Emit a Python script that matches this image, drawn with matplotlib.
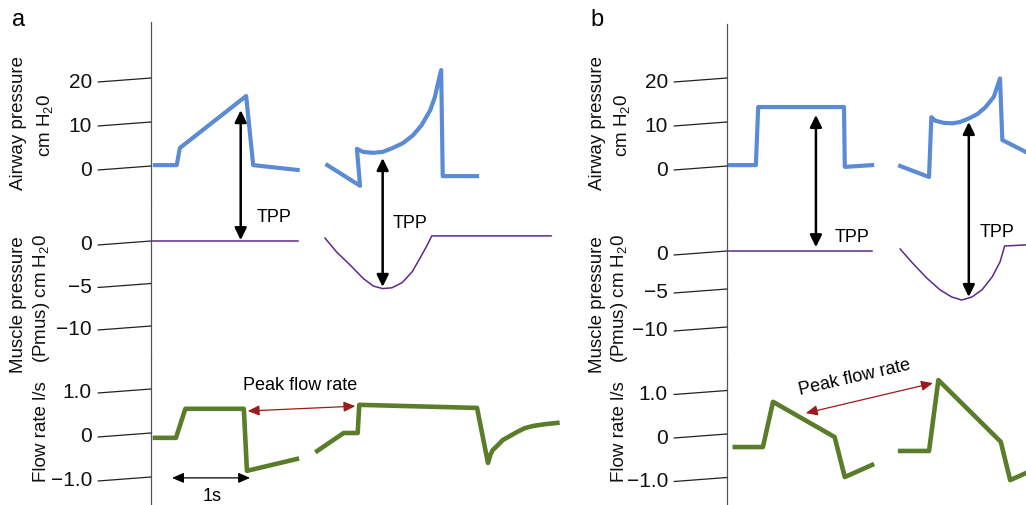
import matplotlib
matplotlib.use('Agg')
import matplotlib.pyplot as plt
from matplotlib.patches import ConnectionPatch

plt.rcParams['font.family'] = ['Liberation Sans', 'DejaVu Sans']
plt.rcParams['mathtext.default'] = 'regular'

# ---- data (time in s, pressure in cm H2O, flow in l/s) ----
# panel a: airway pressure
a_aw1_t = [0.05, 0.33, 0.37, 1.22, 1.31, 1.88]
a_aw1_v = [0.2, 0.2, 4.1, 15.9, 0.2, -0.9]
a_aw2_t = [2.26, 2.68, 2.64, 2.72, 2.85, 2.97, 3.10, 3.23, 3.36, 3.47, 3.58, 3.64, 3.68, 3.72, 3.74, 4.18]
a_aw2_v = [0.2, -4.5, 3.9, 3.2, 3.0, 3.2, 4.1, 5.2, 7.0, 9.3, 12.7, 15.7, 18.9, 21.8, -2.3, -2.3]
# panel a: muscle pressure
a_mu1_t = [0.01, 1.88]
a_mu1_v = [0.0, 0.0]
a_mu2_t = [2.23, 2.38, 2.55, 2.72, 2.85, 2.97, 3.09, 3.22, 3.35, 3.45, 3.54, 3.60, 5.13]
a_mu2_v = [0.35, -1.3, -2.8, -4.4, -5.3, -5.6, -5.5, -4.9, -3.6, -2.0, -0.5, 0.6, 0.6]
# panel a: flow
a_fl1_t = [0.05, 0.32, 0.44, 1.19, 1.23, 1.87]
a_fl1_v = [-0.11, -0.11, 0.55, 0.55, -0.86, -0.59]
a_fl2_t = [2.13, 2.47, 2.65, 2.67, 4.18, 4.32, 4.35, 4.38, 4.45, 4.51, 4.60, 4.69, 4.79, 4.90, 5.05, 5.21]
a_fl2_v = [-0.41, 0.0, 0.0, 0.64, 0.57, -0.68, -0.50, -0.39, -0.27, -0.16, -0.07, 0.02, 0.11, 0.16, 0.20, 0.23]

# panel b: airway pressure
b_aw1_t = [0.04, 0.37, 0.40, 1.50, 1.51, 1.86]
b_aw1_v = [0.2, 0.2, 13.4, 13.4, -0.2, 0.2]
b_aw2_t = [2.22, 2.59, 2.62, 2.67, 2.78, 2.89, 2.99, 3.10, 3.21, 3.31, 3.42, 3.50, 3.53, 3.83]
b_aw2_v = [0.0, -2.5, 11.1, 10.3, 9.8, 9.7, 10.0, 10.8, 11.8, 13.3, 15.7, 19.9, 5.9, 3.2]
# panel b: muscle pressure
b_mu1_t = [0.01, 1.86]
b_mu1_v = [0.0, 0.0]
b_mu2_t = [2.22, 2.38, 2.56, 2.73, 2.88, 3.01, 3.14, 3.27, 3.40, 3.50, 3.56, 3.83]
b_mu2_v = [0.26, -1.6, -3.55, -5.1, -6.05, -6.45, -6.05, -5.1, -3.4, -1.45, 0.66, 0.8]
# panel b: flow
b_fl1_t = [0.10, 0.46, 0.59, 1.38, 1.51, 1.86]
b_fl1_v = [-0.30, -0.30, 0.74, -0.07, -0.99, -0.71]
b_fl2_t = [2.22, 2.59, 2.71, 3.51, 3.63, 3.83]
b_fl2_v = [-0.39, -0.39, 1.24, -0.18, -1.06, -0.90]

aw_ticks = [20, 10, 0]
aw_labels = ['20', '10', '0']
mu_ticks = [0, -5, -10]
mu_labels = ['0', '\u22125', '\u221210']
fl_ticks = [1.0, 0, -1.0]
fl_labels = ['1.0', '0', '\u22121.0']

# TPP arrows: (time, airway value, muscle value)
a_tpp = [(1.15, 12.7, 0.1), (2.97, 1.8, -5.4)]
b_tpp = [(1.14, 11.6, 0.5), (3.10, 10.0, -6.05)]

BLUE = '#5b8bd5'
PURPLE = '#5c2a8c'
GREEN = '#5a7d2a'
RED = '#9b1b1b'

W, H = 1026, 505
PX_PER_S = 78.0

fig = plt.figure(figsize=(W / 100, H / 100), dpi=100)


def make_ax(x_left, x_right, top, bottom, zero_px, ppu):
    # axes placed in pixel units, y scaled so that value 0 sits at zero_px
    ax = fig.add_axes([x_left / W, 1 - bottom / H, (x_right - x_left) / W, (bottom - top) / H])
    ax.set_xlim(0, (x_right - x_left) / PX_PER_S)
    ax.set_ylim((zero_px - bottom) / ppu, (zero_px - top) / ppu)
    ax.set_facecolor('none')
    for s in ['top', 'right', 'bottom']:
        ax.spines[s].set_visible(False)
    ax.spines['left'].set_color('#555555')
    ax.spines['left'].set_linewidth(0.9)
    ax.set_xticks([])
    ax.set_yticks([])
    return ax


def slanted_ticks(ax, values, labels):
    tr = ax.get_yaxis_transform()
    for v, lab in zip(values, labels):
        ax.annotate('', xy=(0, v), xycoords=tr, xytext=(-53, -4), textcoords='offset pixels',
                    arrowprops=dict(arrowstyle='-', color='#222222', lw=0.9, shrinkA=0, shrinkB=0),
                    annotation_clip=False)
        ax.annotate(lab, xy=(0, v), xycoords=tr, xytext=(-59, -4), textcoords='offset pixels',
                    ha='right', va='center', fontsize=15, color='#111111', annotation_clip=False)


def tpp_arrows(ax_aw, ax_mu, arrows):
    for t, paw, pmu in arrows:
        con = ConnectionPatch(xyA=(t, paw), coordsA=ax_aw.transData,
                              xyB=(t, pmu), coordsB=ax_mu.transData,
                              arrowstyle='<|-|>,head_length=0.45,head_width=0.22',
                              mutation_scale=16, lw=1.8, color='black')
        fig.add_artist(con)


def ylabels(x1, x2):
    kw = dict(rotation=90, ha='center', va='center', fontsize=13.5, color='#111111')
    fig.text(x1 / W, 1 - 123 / H, 'Airway pressure', **kw)
    fig.text(x2 / W, 1 - 125 / H, 'cm H$_2$0', **kw)
    fig.text(x1 / W, 1 - 305 / H, 'Muscle pressure', **kw)
    fig.text((x2 - 3) / W, 1 - 298 / H, '(Pmus) cm H$_2$0', **kw)
    fig.text((x2 - 3) / W, 1 - 432 / H, 'Flow rate l/s', **kw)


# ---- panel a ----
a_aw = make_ax(151, 566, 22, 205, 166, 4.4)
a_mu = make_ax(151, 566, 205, 358, 241, 8.5)
a_fl = make_ax(151, 566, 358, 505, 433, 44.0)

a_aw.plot(a_aw1_t, a_aw1_v, color=BLUE, lw=3)
a_aw.plot(a_aw2_t, a_aw2_v, color=BLUE, lw=3)
a_mu.plot(a_mu1_t, a_mu1_v, color=PURPLE, lw=1.1)
a_mu.plot(a_mu2_t, a_mu2_v, color=PURPLE, lw=1.1)
a_fl.plot(a_fl1_t, a_fl1_v, color=GREEN, lw=3.3)
a_fl.plot(a_fl2_t, a_fl2_v, color=GREEN, lw=3.3)

slanted_ticks(a_aw, aw_ticks, aw_labels)
slanted_ticks(a_mu, mu_ticks, mu_labels)
slanted_ticks(a_fl, fl_ticks, fl_labels)
tpp_arrows(a_aw, a_mu, a_tpp)
a_mu.text(1.36, 2.8, 'TPP', fontsize=13, va='center', ha='left')
a_mu.text(3.10, 2.1, 'TPP', fontsize=13, va='center', ha='left')

a_fl.annotate('', xy=(1.24, 0.50), xytext=(2.62, 0.61),
              arrowprops=dict(arrowstyle='<|-|>,head_length=0.5,head_width=0.22', mutation_scale=14,
                              color=RED, lw=0.9, shrinkA=0, shrinkB=0), annotation_clip=False)
a_fl.text(1.91, 1.07, 'Peak flow rate', fontsize=13, ha='center', va='center')
a_fl.annotate('', xy=(0.27, -1.02), xytext=(1.27, -1.02),
              arrowprops=dict(arrowstyle='<|-|>,head_length=0.5,head_width=0.22', mutation_scale=14,
                              color='black', lw=0.9, shrinkA=0, shrinkB=0), annotation_clip=False)
a_fl.text(0.78, -1.45, '1s', fontsize=13, ha='center', va='center')

# ---- panel b ----
b_aw = make_ax(727, 1026, 24, 205, 166, 4.4)
b_mu = make_ax(727, 1026, 205, 358, 251, 7.6)
b_fl = make_ax(727, 1026, 358, 505, 434, 43.5)

b_aw.plot(b_aw1_t, b_aw1_v, color=BLUE, lw=3)
b_aw.plot(b_aw2_t, b_aw2_v, color=BLUE, lw=3)
b_mu.plot(b_mu1_t, b_mu1_v, color=PURPLE, lw=1.1)
b_mu.plot(b_mu2_t, b_mu2_v, color=PURPLE, lw=1.1)
b_fl.plot(b_fl1_t, b_fl1_v, color=GREEN, lw=3.3)
b_fl.plot(b_fl2_t, b_fl2_v, color=GREEN, lw=3.3)

slanted_ticks(b_aw, aw_ticks, aw_labels)
slanted_ticks(b_mu, mu_ticks, mu_labels)
slanted_ticks(b_fl, fl_ticks, fl_labels)
tpp_arrows(b_aw, b_mu, b_tpp)
b_mu.text(1.38, 1.84, 'TPP', fontsize=13, va='center', ha='left')
b_mu.text(3.24, 2.37, 'TPP', fontsize=13, va='center', ha='left')

b_fl.annotate('', xy=(1.01, 0.48), xytext=(2.64, 1.17),
              arrowprops=dict(arrowstyle='<|-|>,head_length=0.5,head_width=0.22', mutation_scale=14,
                              color=RED, lw=0.9, shrinkA=0, shrinkB=0), annotation_clip=False)
b_fl.text(1.64, 1.29, 'Peak flow rate', fontsize=13, ha='center', va='center', rotation=13)

# ---- axis titles and panel letters ----
ylabels(19, 45)
ylabels(597, 622)
fig.text(19 / W, 1 - 20 / H, 'a', fontsize=17, ha='center', va='center')
fig.text(597 / W, 1 - 20 / H, 'b', fontsize=17, ha='center', va='center')

fig.savefig('out.png', dpi=100)
